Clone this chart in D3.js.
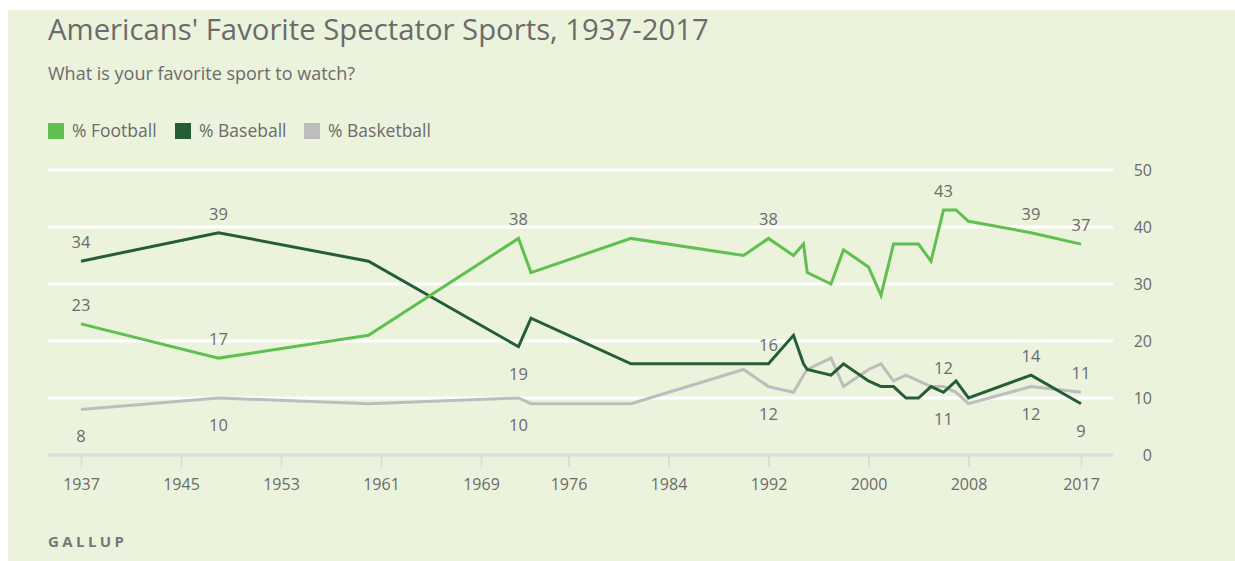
<!DOCTYPE html>
<html>
<head>
<meta charset="utf-8">
<script src="https://cdn.jsdelivr.net/npm/d3@7"></script>
<style>
  html, body { margin: 0; padding: 0; background: #ffffff; }
  svg { display: block; font-family: "Open Sans", "Noto Sans", sans-serif; }
</style>
</head>
<body>
<svg id="chart" width="1235" height="561"></svg>
<script>
// ---- data ----
const years = [1937, 1948, 1960, 1972, 1973, 1981, 1990, 1992, 1994, 1994.8, 1995.1, 1997, 1998, 2000, 2001, 2002, 2003, 2004, 2005, 2006, 2007, 2008, 2013, 2017];
const football   = [23, 17, 21, 38, 32, 38, 35, 38, 35, 37, 32, 30, 36, 33, 28, 37, 37, 37, 34, 43, 43, 41, 39, 37];
const baseball   = [34, 39, 34, 19, 24, 16, 16, 16, 21, 16, 15, 14, 16, 13, 12, 12, 10, 10, 12, 11, 13, 10, 14, 9];
const basketball = [8, 10, 9, 10, 9, 9, 15, 12, 11, 14, 15, 17, 12, 15, 16, 13, 14, 13, 12, 12, 11, 9, 12, 11];
const seriesNames = ["% Football", "% Baseball", "% Basketball"];
const xTickYears = [1937, 1945, 1953, 1961, 1969, 1976, 1984, 1992, 2000, 2008, 2017];
const yTicks = [0, 10, 20, 30, 40, 50];
const labelYears = [1937, 1948, 1972, 1992, 2006, 2013, 2017];
const titleText = "Americans' Favorite Spectator Sports, 1937-2017";
const subtitleText = "What is your favorite sport to watch?";
const sourceText = "GALLUP";

// ---- styles ----
const colors = ["#5fc04f", "#255e36", "#bdbdbd"];
const textColor = "#6b6b6b";
const bg = "#ebf3dd";

const svg = d3.select("#chart");
svg.append("rect").attr("x", 8).attr("y", 10).attr("width", 1227).attr("height", 551).attr("fill", bg);

const x = d3.scaleLinear().domain([1937, 2017]).range([81, 1081]);
const y = d3.scaleLinear().domain([0, 50]).range([455, 170]);

// title
svg.append("text").attr("x", 48).attr("y", 40).attr("fill", textColor)
  .attr("font-size", 29.3).attr("font-weight", 400).text(titleText);
svg.append("text").attr("x", 48).attr("y", 80).attr("fill", textColor)
  .attr("font-size", 18).text(subtitleText);

// legend
const legendX = [48, 175, 304];
seriesNames.forEach((name, i) => {
  const g = svg.append("g").attr("transform", `translate(${legendX[i]},123)`);
  g.append("rect").attr("width", 16).attr("height", 16).attr("fill", colors[i]);
  g.append("text").attr("x", 24).attr("y", 14).attr("fill", textColor).attr("font-size", 17.5).text(name);
});

// gridlines
svg.append("g").selectAll("line").data(yTicks.filter(d => d > 0)).join("line")
  .attr("x1", 48).attr("x2", 1113).attr("y1", d => y(d)).attr("y2", d => y(d))
  .attr("stroke", "#ffffff").attr("stroke-width", 3);

// y axis labels
const yAxis = d3.axisRight(y).tickValues(yTicks).tickSize(0).tickPadding(0);
const yg = svg.append("g").attr("transform", "translate(1152,0)").call(yAxis);
yg.select(".domain").remove();
yg.selectAll("text").attr("text-anchor", "end").attr("fill", textColor).attr("font-size", 16)
  .attr("font-family", "'Open Sans', sans-serif");

// x axis
svg.append("line").attr("x1", 48).attr("x2", 1113).attr("y1", 455).attr("y2", 455)
  .attr("stroke", "#dcdcdc").attr("stroke-width", 3);
const xAxis = d3.axisBottom(x).tickValues(xTickYears).tickFormat(d3.format("d")).tickSize(12).tickPadding(12);
const xg = svg.append("g").attr("transform", "translate(0,455)").call(xAxis);
xg.select(".domain").remove();
xg.selectAll(".tick line").attr("stroke", "#dcdcdc").attr("stroke-width", 2);
xg.selectAll("text").attr("fill", textColor).attr("font-size", 16).attr("font-family", "'Open Sans', sans-serif");

// lines
const allSeries = [football, baseball, basketball];
const line = d3.line().x(d => x(d[0])).y(d => y(d[1]));
[2, 1, 0].forEach(i => {
  const pts = years.map((yr, j) => [yr, allSeries[i][j]]);
  svg.append("path").datum(pts).attr("d", line).attr("fill", "none")
    .attr("stroke", colors[i]).attr("stroke-width", 3).attr("stroke-linejoin", "miter");
});

// data labels
const belowMap = {
  1: [1972, 2006, 2017],
  2: [1937, 1948, 1972, 1992, 2013]
};
allSeries.forEach((vals, i) => {
  labelYears.forEach(yr => {
    const j = years.indexOf(yr);
    const v = vals[j];
    const below = (belowMap[i] || []).includes(yr);
    svg.append("text").attr("x", x(yr)).attr("y", y(v) + (below ? 33 : -13))
      .attr("text-anchor", "middle").attr("fill", textColor).attr("font-size", 16.5).text(v);
  });
});

// source
svg.append("text").attr("x", 48).attr("y", 547).attr("fill", "#777").attr("font-size", 15)
  .attr("font-weight", 700).attr("letter-spacing", 3.4).text(sourceText);
</script>
</body>
</html>
